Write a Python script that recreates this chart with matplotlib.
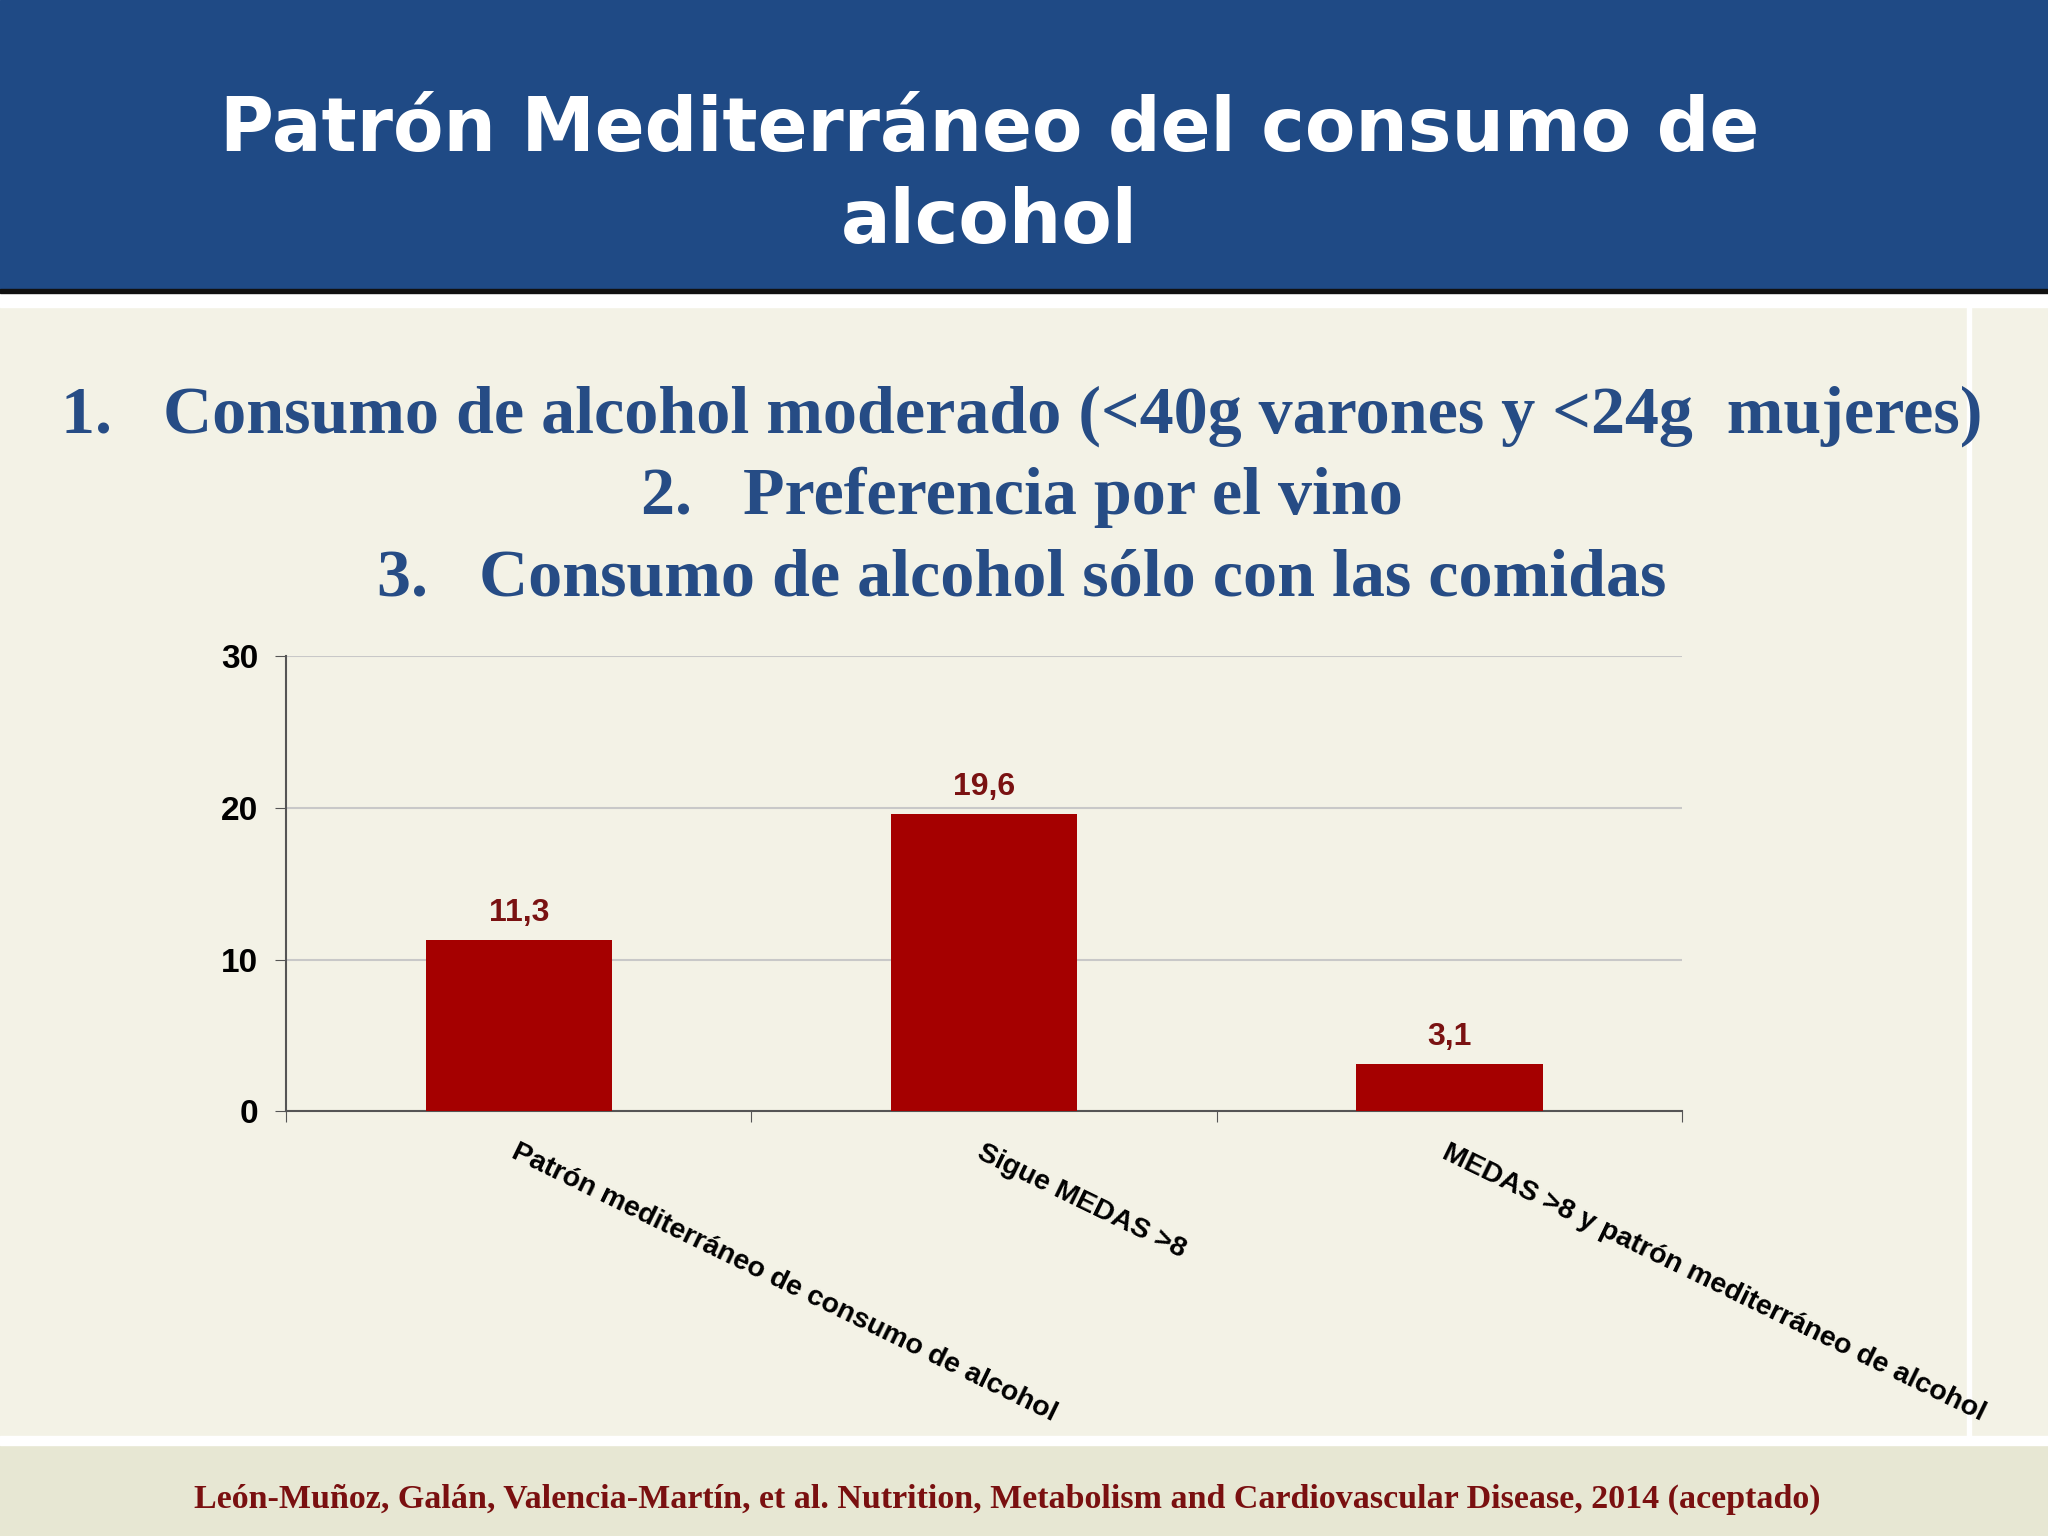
import matplotlib
matplotlib.use("Agg")
import matplotlib.pyplot as plt
from matplotlib.patches import Rectangle

categories = ["Patrón mediterráneo de consumo de alcohol", "Sigue MEDAS >8",
              "MEDAS >8 y patrón mediterráneo de alcohol"]
values = [11.3, 19.6, 3.1]
value_labels = ["11,3", "19,6", "3,1"]
yticks = [0, 10, 20, 30]

fig = plt.figure(figsize=(20.48, 15.36), dpi=100)
fig.patch.set_facecolor("#F3F2E6")
fig.add_artist(Rectangle((0, 0.811), 1, 0.189, transform=fig.transFigure, color="#1F4A85", zorder=0))
fig.add_artist(Rectangle((0, 0.809), 1, 0.003, transform=fig.transFigure, color="#111111", zorder=1))
fig.add_artist(Rectangle((0, 0.800), 1, 0.009, transform=fig.transFigure, color="#FFFFFF", zorder=0))
fig.add_artist(Rectangle((0.9605, 0.065), 0.002, 0.735, transform=fig.transFigure, color="#FFFFFF", zorder=0))
fig.add_artist(Rectangle((0, 0), 1, 0.059, transform=fig.transFigure, color="#E7E7D3", zorder=0))
fig.add_artist(Rectangle((0, 0.059), 1, 0.006, transform=fig.transFigure, color="#FFFFFF", zorder=0))

fig.text(0.483, 0.915, "Patrón Mediterráneo del consumo de", color="white", fontsize=53,
         fontweight="bold", ha="center", va="center", family="DejaVu Sans")
fig.text(0.483, 0.855, "alcohol", color="white", fontsize=53,
         fontweight="bold", ha="center", va="center", family="DejaVu Sans")

blue = "#264C85"
fig.text(0.03, 0.729, "1.   Consumo de alcohol moderado (<40g varones y <24g  mujeres)", color=blue,
         fontsize=49, fontweight="bold", ha="left", va="center", family="Liberation Serif")
fig.text(0.313, 0.676, "2.   Preferencia por el vino", color=blue,
         fontsize=49, fontweight="bold", ha="left", va="center", family="Liberation Serif")
fig.text(0.184, 0.623, "3.   Consumo de alcohol sólo con las comidas", color=blue,
         fontsize=49, fontweight="bold", ha="left", va="center", family="Liberation Serif")

ax = fig.add_axes([0.1397, 0.2764, 0.6817, 0.2967])
ax.set_facecolor("none")
x = list(range(len(values)))
ax.bar(x, values, width=0.4, color="#A50000", zorder=3)
ax.set_xlim(-0.5, 2.5)
ax.set_ylim(0, 30)
ax.set_yticks(yticks)
ax.set_yticklabels([str(t) for t in yticks], fontsize=24, fontweight="bold", family="Liberation Sans")
ax.yaxis.grid(True, color="#C8C8C8", lw=1.5, zorder=0)
ax.set_xticks([-0.5, 0.5, 1.5, 2.5])
ax.set_xticklabels([])
ax.tick_params(axis="x", length=8, color="#555555")
ax.tick_params(axis="y", length=8, color="#555555", pad=12)
for s in ["top", "right"]:
    ax.spines[s].set_visible(False)
for s in ["left", "bottom"]:
    ax.spines[s].set_color("#555555")
    ax.spines[s].set_linewidth(1.5)
for xi, v, lab in zip(x, values, value_labels):
    ax.text(xi, v + 0.8, lab, ha="center", va="bottom", fontsize=23, fontweight="bold",
            color="#7A1212", family="Liberation Sans")
for xi, c in zip(x, categories):
    ax.annotate(c, xy=(xi, 0), xycoords=("data", "axes fraction"), xytext=(0, -20),
                textcoords="offset points", ha="left", va="top", rotation=-26,
                rotation_mode="anchor", fontsize=20.5, fontweight="bold", family="Liberation Sans")

fig.text(0.492, 0.024, "León-Muñoz, Galán, Valencia-Martín, et al. Nutrition, Metabolism and Cardiovascular Disease, 2014 (aceptado)",
         color="#7A1010", fontsize=24.5, fontweight="bold", ha="center", va="center", family="Liberation Serif")

fig.savefig("out.png", dpi=100, facecolor=fig.get_facecolor())
